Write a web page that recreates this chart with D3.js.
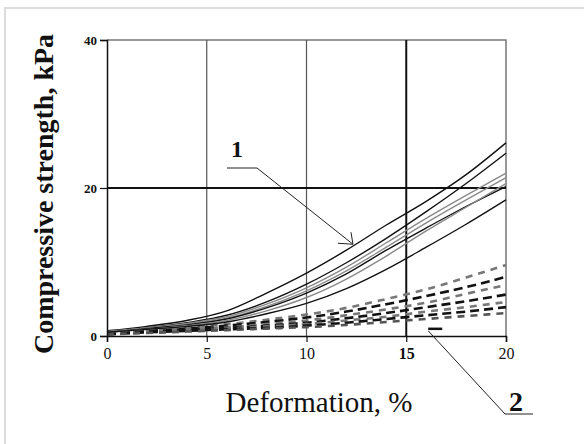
<!DOCTYPE html>
<html>
<head>
<meta charset="utf-8">
<script src="https://cdn.jsdelivr.net/npm/d3@7"></script>
<style>
  html, body { margin: 0; padding: 0; background: #fff; }
  svg { display: block; }
</style>
</head>
<body>
<svg id="chart" width="584" height="444"></svg>
<script>
// Deformation, % (sample points shared by every curve)
const deformation = [0, 2, 4, 6, 8, 10, 12, 14, 16, 18, 20];

// Group 1: solid curves (compressive strength, kPa)
const solidSeries = [
  { name: "1a", color: "#111", values: [0.7, 1.3, 2.1, 3.4, 5.8, 8.5, 11.6, 15.0, 18.2, 21.8, 26.1] },
  { name: "1b", color: "#111", values: [0.6, 1.1, 1.8, 2.8, 4.6, 7.0, 9.9, 13.2, 16.8, 20.6, 24.7] },
  { name: "1c", color: "#8a8a8a", values: [0.6, 1.1, 1.7, 2.6, 4.3, 6.5, 9.3, 12.6, 15.9, 19.0, 22.0] },
  { name: "1d", color: "#8a8a8a", values: [0.5, 1.0, 1.6, 2.4, 4.0, 6.1, 8.8, 12.0, 15.3, 18.4, 21.4] },
  { name: "1e", color: "#111", values: [0.5, 1.0, 1.5, 2.3, 3.8, 5.8, 8.4, 11.6, 14.6, 17.5, 20.2] },
  { name: "1f", color: "#8a8a8a", values: [0.5, 0.9, 1.4, 2.1, 3.4, 5.2, 7.7, 10.8, 14.2, 17.4, 20.6] },
  { name: "1g", color: "#111", values: [0.5, 0.9, 1.3, 1.9, 3.0, 4.4, 6.4, 9.0, 12.0, 15.1, 18.4] }
];

// Group 2: dashed curves (compressive strength, kPa)
const dashedSeries = [
  { name: "2a", color: "#777", values: [0.4, 0.8, 1.2, 1.6, 2.2, 2.9, 3.8, 5.0, 6.3, 7.9, 9.6] },
  { name: "2b", color: "#111", values: [0.4, 0.7, 1.0, 1.4, 1.9, 2.5, 3.3, 4.3, 5.4, 6.6, 8.0] },
  { name: "2c", color: "#777", values: [0.3, 0.6, 0.9, 1.2, 1.6, 2.1, 2.8, 3.6, 4.5, 5.7, 6.9] },
  { name: "2d", color: "#111", values: [0.3, 0.6, 0.8, 1.1, 1.4, 1.8, 2.4, 3.1, 3.9, 4.7, 5.6] },
  { name: "2e", color: "#777", values: [0.3, 0.5, 0.7, 1.0, 1.3, 1.6, 2.1, 2.6, 3.3, 3.9, 4.6] },
  { name: "2f", color: "#111", values: [0.2, 0.5, 0.7, 0.9, 1.1, 1.4, 1.8, 2.3, 2.8, 3.3, 3.9] },
  { name: "2g", color: "#555", values: [0.2, 0.4, 0.6, 0.8, 1.0, 1.2, 1.5, 1.9, 2.3, 2.7, 3.1] }
];

const xTicks = [0, 5, 10, 15, 20];
const yTicks = [0, 20, 40];
const xTitle = "Deformation, %";
const yTitle = "Compressive strength, kPa";

// Annotation anchors in data units: where each leader line meets the curves
const label1Tip = { x: 12.33, y: 12.4 };
const label2Tip = { x: 16.1, y: 0.7 };

const SERIF = '"Liberation Serif", "DejaVu Serif", "Times New Roman", Times, serif';

const svg = d3.select("#chart");
const plot = { left: 107, right: 506, top: 40, bottom: 336 };

const x = d3.scaleLinear().domain([0, 20]).range([plot.left, plot.right]);
const y = d3.scaleLinear().domain([0, 40]).range([plot.bottom, plot.top]);

// outer frame
svg.append("rect")
  .attr("x", 5).attr("y", 8).attr("width", 600).attr("height", 460)
  .attr("fill", "#fff").attr("stroke", "#dcdcdc").attr("stroke-width", 2);

// plot box: top and right edges
svg.append("path")
  .attr("d", `M${plot.left},${plot.top}H${plot.right}V${plot.bottom}`)
  .attr("fill", "none").attr("stroke", "#777").attr("stroke-width", 1.5);

// vertical gridlines
const gridX = [5, 10, 15];
svg.append("g").selectAll("line").data(gridX).join("line")
  .attr("x1", d => x(d)).attr("x2", d => x(d))
  .attr("y1", plot.top).attr("y2", plot.bottom)
  .attr("stroke", d => d === 15 ? "#111" : "#555")
  .attr("stroke-width", d => d === 15 ? 2 : 1.2);

// horizontal gridline at 20
svg.append("line")
  .attr("x1", plot.left).attr("x2", plot.right)
  .attr("y1", y(20)).attr("y2", y(20))
  .attr("stroke", "#111").attr("stroke-width", 2);

const line = d3.line()
  .x((d, i) => x(deformation[i]))
  .y(d => y(d))
  .curve(d3.curveMonotoneX);

// dashed group 2
svg.append("g").selectAll("path").data(dashedSeries).join("path")
  .attr("d", d => line(d.values))
  .attr("fill", "none")
  .attr("stroke", d => d.color)
  .attr("stroke-width", 2.6)
  .attr("stroke-dasharray", (d, i) => i % 2 ? "9,5" : "7,6");

// solid group 1
svg.append("g").selectAll("path").data(solidSeries).join("path")
  .attr("d", d => line(d.values))
  .attr("fill", "none")
  .attr("stroke", d => d.color)
  .attr("stroke-width", 1.4);

// axes
const xAxis = d3.axisBottom(x).tickValues(xTicks).tickSize(6).tickPadding(6).tickFormat(d3.format("d"));
const gx = svg.append("g").attr("transform", `translate(0,${plot.bottom})`).call(xAxis);
gx.attr("font-family", null);
gx.select(".domain").attr("stroke", "#111").attr("stroke-width", 1.5);
gx.selectAll(".tick line").attr("stroke", "#111").attr("stroke-width", 1.2);
gx.selectAll(".tick text")
  .style("font-family", SERIF)
  .style("font-size", "16px")
  .style("font-weight", d => d === 15 ? "bold" : "normal")
  .attr("fill", "#111");

const yAxis = d3.axisLeft(y).tickValues(yTicks).tickSize(7).tickPadding(3).tickFormat(d3.format("d"));
const gy = svg.append("g").attr("transform", `translate(${plot.left},0)`).call(yAxis);
gy.attr("font-family", null);
gy.select(".domain").attr("stroke", "#111").attr("stroke-width", 1.5);
gy.selectAll(".tick line").attr("stroke", "#111").attr("stroke-width", 1.2);
gy.selectAll(".tick text")
  .style("font-family", SERIF)
  .style("font-size", "13px")
  .style("font-weight", "bold")
  .attr("fill", "#111");

// axis titles
svg.append("text")
  .attr("x", 319).attr("y", 412)
  .attr("text-anchor", "middle")
  .style("font-family", SERIF).style("font-size", "29px")
  .attr("fill", "#111")
  .text(xTitle);

svg.append("text")
  .attr("transform", "translate(53,194) rotate(-90)")
  .attr("text-anchor", "middle")
  .style("font-family", SERIF).style("font-size", "28px").style("font-weight", "bold")
  .attr("fill", "#111")
  .text(yTitle);

// annotation "1"
const t1 = [x(label1Tip.x), y(label1Tip.y)];
svg.append("text")
  .attr("x", 237).attr("y", 157)
  .attr("text-anchor", "middle")
  .style("font-family", SERIF).style("font-size", "24px").style("font-weight", "bold")
  .attr("fill", "#111")
  .text("1");
svg.append("path")
  .attr("d", `M227,168H257L${t1[0]},${t1[1]}M${t1[0] - 15},${t1[1] - 1}L${t1[0]},${t1[1]}L${t1[0] - 2},${t1[1] - 12}`)
  .attr("fill", "none").attr("stroke", "#222").attr("stroke-width", 1);

// annotation "2"
const t2 = [x(label2Tip.x), y(label2Tip.y)];
svg.append("text")
  .attr("x", 516).attr("y", 411)
  .attr("text-anchor", "middle")
  .style("font-family", SERIF).style("font-size", "28px").style("font-weight", "bold")
  .attr("fill", "#111")
  .text("2");
svg.append("path")
  .attr("d", `M533,414H505L${t2[0]},${t2[1]}`)
  .attr("fill", "none").attr("stroke", "#222").attr("stroke-width", 1);
svg.append("line")
  .attr("x1", t2[0]).attr("x2", t2[0] + 14)
  .attr("y1", t2[1] - 2).attr("y2", t2[1] - 2)
  .attr("stroke", "#111").attr("stroke-width", 2.5);
</script>
</body>
</html>
